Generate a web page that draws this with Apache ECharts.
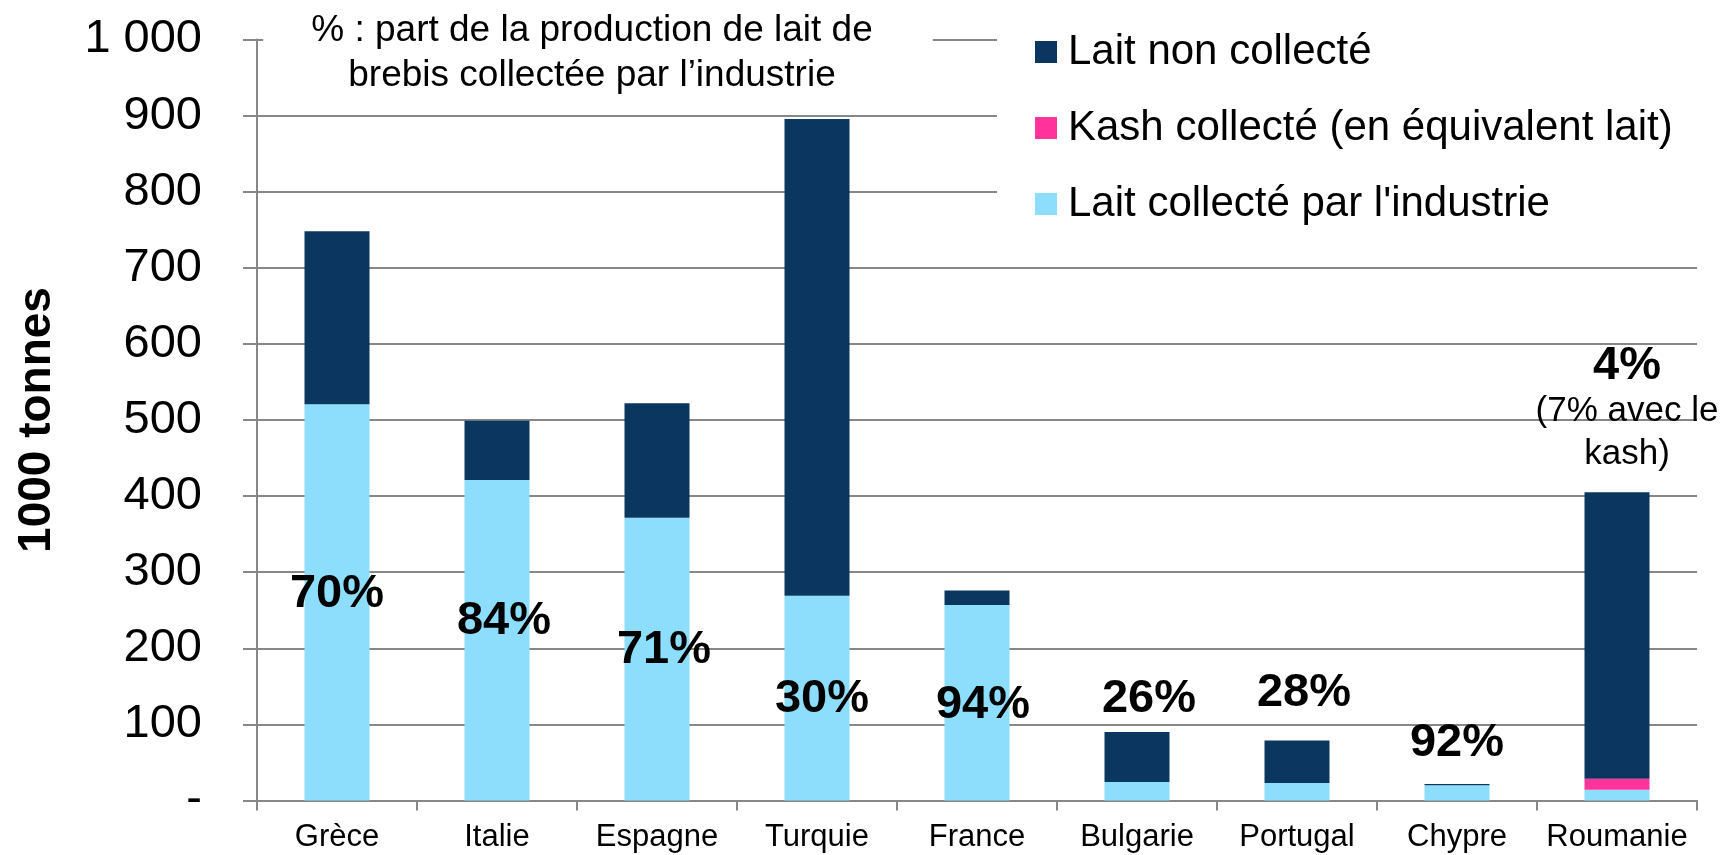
<!DOCTYPE html>
<html>
<head>
<meta charset="utf-8">
<script src="https://cdn.jsdelivr.net/npm/echarts@6/dist/echarts.min.js"></script>
<style>
  html, body { margin: 0; padding: 0; background: #fff; }
  #chart { width: 1727px; height: 855px; }
</style>
</head>
<body>
<div id="chart"></div>
<script>
// données (1000 tonnes)
var categories = ['Grèce', 'Italie', 'Espagne', 'Turquie', 'France', 'Bulgarie', 'Portugal', 'Chypre', 'Roumanie'];
var collected = [520.7, 421, 371.6, 269, 257, 24.3, 23, 20, 14];
var kash = [0, 0, 0, 0, 0, 0, 0, 0, 14.5];
var nonCollected = [227.3, 78, 150.4, 626.6, 19, 65.7, 55.7, 1.8, 376.5];
var pctLabels = ['70%', '84%', '71%', '30%', '94%', '26%', '28%', '92%', '4%'];
var roumanieNote = ['(7% avec le', 'kash)'];
var yTickLabels = ['-', '100', '200', '300', '400', '500', '600', '700', '800', '900', '1 000'];

var font = "'Liberation Sans', Arial, sans-serif";
var gray = '#878787';
var colDark = '#0a3660', colPink = '#ff3399', colLight = '#8cdefc';

// placement des étiquettes: dans la barre claire (0-4) ou au-dessus de la pile (5-8)
var inside = { 0: [0, -8], 1: [7, -19], 2: [7, -9], 3: [5, 1], 4: [6, 2] };
var above = { 5: [12, 9], 6: [7, 24], 7: [0, 17], 8: [10, 16] };

var labelBase = { color: '#000', fontSize: 47, fontWeight: 'bold', fontFamily: font, lineHeight: 47 };

var myChart = echarts.init(document.getElementById('chart'));

var option = {
    animation: false,
    backgroundColor: '#fff',
    textStyle: { fontFamily: font },
    title: {
        text: '% : part de la production de lait de\nbrebis collectée par l’industrie',
        left: 544,
        top: 0,
        padding: [8, 60, 8, 48],
        textAlign: 'center',
        backgroundColor: '#fff',
        textStyle: { fontSize: 37, fontWeight: 'normal', color: '#000', lineHeight: 45, fontFamily: font }
    },
    legend: {
        orient: 'vertical',
        left: 997,
        top: 21,
        padding: [10, 60, 10, 38],
        backgroundColor: '#fff',
        itemWidth: 22,
        itemHeight: 22,
        itemGap: 34,
        icon: 'rect',
        selectedMode: false,
        textStyle: { fontSize: 42, color: '#000', lineHeight: 42, padding: [0, 0, 0, 6], fontFamily: font },
        data: ['Lait non collecté', 'Kash collecté (en équivalent lait)', "Lait collecté par l'industrie"]
    },
    grid: { left: 257, right: 30, top: 39.5, bottom: 54.5, containLabel: false, outerBoundsMode: 'none' },
    xAxis: {
        type: 'category',
        data: categories,
        axisLine: { lineStyle: { color: gray, width: 2 } },
        axisTick: { show: true, length: 10, alignWithLabel: false, interval: 0, lineStyle: { color: gray, width: 2 } },
        axisLabel: { interval: 0, fontSize: 31, color: '#000', margin: 21, fontFamily: font }
    },
    yAxis: {
        type: 'value',
        min: 0,
        max: 1000,
        interval: 100,
        name: '1000 tonnes',
        nameLocation: 'middle',
        nameGap: 197,
        nameTextStyle: { fontSize: 46, fontWeight: 'bold', color: '#000', fontFamily: font },
        axisLine: { show: true, lineStyle: { color: gray, width: 2 } },
        axisTick: { show: true, length: 14, lineStyle: { color: gray, width: 2 } },
        splitLine: { lineStyle: { color: gray, width: 2 } },
        axisLabel: {
            margin: 55, fontSize: 47, color: '#000', fontFamily: font,
            formatter: function (v) { return yTickLabels[Math.round(v / 100)]; }
        }
    },
    series: [
        {
            name: "Lait collecté par l'industrie",
            type: 'bar',
            stack: 'total',
            barWidth: 65,
            itemStyle: { color: colLight },
            data: collected.map(function (v, i) {
                var o = inside[i];
                return {
                    value: v,
                    label: o ? Object.assign({ show: true, position: 'inside', offset: o, formatter: pctLabels[i] }, labelBase) : { show: false }
                };
            })
        },
        {
            name: 'Kash collecté (en équivalent lait)',
            type: 'bar',
            stack: 'total',
            barWidth: 65,
            itemStyle: { color: colPink },
            data: kash
        },
        {
            name: 'Lait non collecté',
            type: 'bar',
            stack: 'total',
            barWidth: 65,
            itemStyle: { color: colDark },
            data: nonCollected.map(function (v, i) {
                var o = above[i];
                if (!o) return { value: v, label: { show: false } };
                var lab = Object.assign({ show: true, position: 'top', offset: [o[0], 0], distance: o[1], formatter: pctLabels[i] }, labelBase);
                if (i === 8) {
                    lab.formatter = '{b|' + pctLabels[i] + '}\n{s|' + roumanieNote[0] + '}\n{s|' + roumanieNote[1] + '}';
                    lab.rich = {
                        b: { fontSize: 47, fontWeight: 'bold', lineHeight: 48, color: '#000', fontFamily: font },
                        s: { fontSize: 35, fontWeight: 'normal', lineHeight: 43, color: '#000', fontFamily: font }
                    };
                }
                return { value: v, label: lab };
            })
        }
    ]
};

myChart.setOption(option);
</script>
</body>
</html>
